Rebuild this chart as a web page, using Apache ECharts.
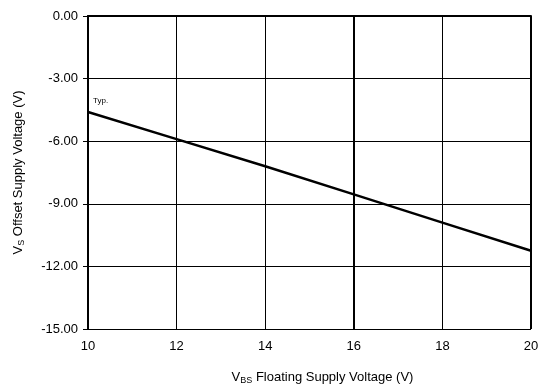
<!DOCTYPE html>
<html>
<head>
<meta charset="utf-8">
<script src="https://cdn.jsdelivr.net/npm/echarts@6/dist/echarts.min.js"></script>
<style>
  html, body { margin: 0; padding: 0; background: #fff; }
  #main { width: 543px; height: 391px; }
</style>
</head>
<body>
<div id="main"></div>
<script>
  // VBS floating supply voltage (V)
  const vbs = [10, 12, 14, 16, 18, 20]
  // VS offset supply voltage (V), typical
  const vsTyp = [-4.6, -5.9, -7.2, -8.55, -9.9, -11.25]

  const FONT = '"Liberation Sans", Arial, sans-serif'

  const chart = echarts.init(document.getElementById('main'))
  chart.setOption({
    animation: false,
    grid: { left: 88, right: 12, top: 16, bottom: 62 },
    xAxis: {
      type: 'value',
      min: 10,
      max: 20,
      interval: 2,
      name: '{m|V}{s|BS}{m| Floating Supply Voltage (V)}',
      nameLocation: 'middle',
      nameGap: 41,
      nameTextStyle: {
        padding: [0, 0, 0, 26],
        rich: {
          m: { fontFamily: FONT, fontSize: 13, color: '#000' },
          s: { fontFamily: FONT, fontSize: 9, color: '#000', verticalAlign: 'bottom', padding: [6, 0, 0, 0] }
        }
      },
      axisLine: { show: true, lineStyle: { color: '#000', width: 2 } },
      axisTick: { show: true, inside: false, length: 5, lineStyle: { color: '#000' } },
      axisLabel: { color: '#000', fontFamily: FONT, fontSize: 13, margin: 11 },
      splitLine: { show: true, lineStyle: { color: '#000', width: 1 } }
    },
    yAxis: {
      type: 'value',
      min: -15,
      max: 0,
      interval: 3,
      name: '{m|V}{s|S}{m| Offset Supply Voltage (V)}',
      nameLocation: 'middle',
      nameRotate: 90,
      nameGap: 62,
      nameTextStyle: {
        rich: {
          m: { fontFamily: FONT, fontSize: 13, color: '#000' },
          s: { fontFamily: FONT, fontSize: 9, color: '#000', verticalAlign: 'bottom', padding: [6, 0, 0, 0] }
        }
      },
      axisLine: { show: true, lineStyle: { color: '#000', width: 2 } },
      axisTick: { show: true, inside: false, length: 5, lineStyle: { color: '#000' } },
      axisLabel: {
        color: '#000', fontFamily: FONT, fontSize: 13, margin: 10,
        formatter: (v) => v.toFixed(2)
      },
      splitLine: { show: true, lineStyle: { color: '#000', width: 1 } }
    },
    graphic: [{
      type: 'text',
      left: 93,
      top: 97,
      style: { text: 'Typ.', fontFamily: FONT, fontSize: 8, fill: '#000' }
    }],
    series: [{
      name: 'Typ.',
      type: 'line',
      data: vbs.map((x, i) => [x, vsTyp[i]]),
      symbol: 'none',
      lineStyle: { color: '#000', width: 2.5 },
      markLine: {
        silent: true,
        symbol: 'none',
        label: { show: false },
        lineStyle: { color: '#000', width: 2, type: 'solid' },
        data: [{ xAxis: 16 }, { xAxis: 20 }, { yAxis: 0, lineStyle: { width: 1 } }]
      }
    }]
  })
  window.addEventListener('resize', function () {
    chart.resize()
  })
</script>
</body>
</html>
